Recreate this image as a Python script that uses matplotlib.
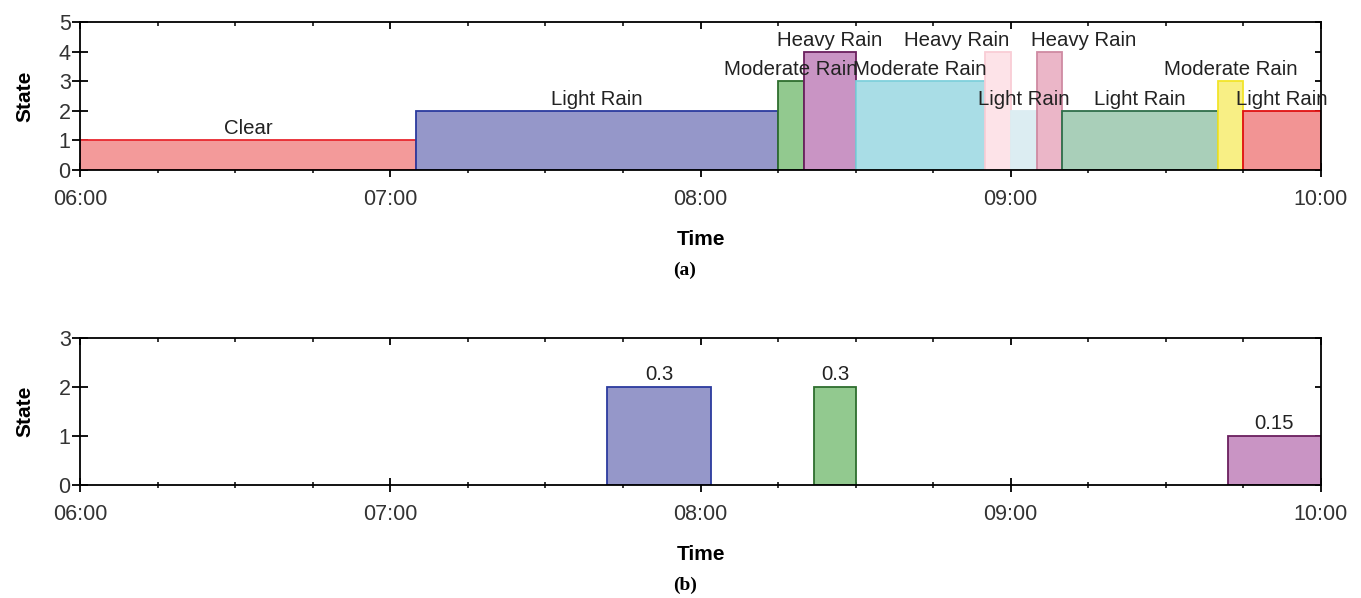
import matplotlib
matplotlib.use("Agg")
import matplotlib.pyplot as plt
from matplotlib.ticker import MultipleLocator, FuncFormatter

plt.rcParams['font.family'] = ['Liberation Sans', 'DejaVu Sans']

# (a) weather states over the morning
top_starts = ["06:00", "07:05", "08:15", "08:20", "08:30", "08:55", "09:00", "09:05", "09:10", "09:40", "09:45"]
top_ends = ["07:05", "08:15", "08:20", "08:30", "08:55", "09:00", "09:05", "09:10", "09:40", "09:45", "10:00"]
top_states = [1, 2, 3, 4, 3, 4, 2, 4, 2, 3, 2]
top_labels = ["Clear", "Light Rain", "Moderate Rain", "Heavy Rain", "Moderate Rain", "Heavy Rain",
              "Light Rain", "Heavy Rain", "Light Rain", "Moderate Rain", "Light Rain"]

# (b) detected events
bot_starts = ["07:42", "08:22", "09:42"]
bot_ends = ["08:02", "08:30", "10:00"]
bot_states = [2, 2, 1]
bot_labels = ["0.3", "0.3", "0.15"]

# styling
top_fill = ["#f39a9a", "#9597c9", "#92c98f", "#c994c4", "#a9dde6", "#fde3e8",
            "#dcedf2", "#ebb6c8", "#a9cfb9", "#f8ef85", "#f29494"]
top_edge = ["#e8282f", "#2b3a9e", "#2e6e2e", "#6a1f5e", "#7fd0dc", "#f9cdd6",
            "#dcedf2", "#cf8aa2", "#2f6e4a", "#f2e52a", "#e01010"]
top_nudge = [0, 0, 0, 0, 0, -8, 0, 6.6, 0, 0, 0]  # label shift, minutes
bot_fill = ["#9597c9", "#92c98f", "#c994c4"]
bot_edge = ["#2b3a9e", "#2e6e2e", "#6a1f5e"]


def hours(s):
    h, m = s.split(":")
    return int(h) + int(m) / 60.0


def style_axes(ax, ymax):
    ax.set_xlim(6, 10)
    ax.set_ylim(0, ymax)
    ax.xaxis.set_major_locator(MultipleLocator(1))
    ax.xaxis.set_minor_locator(MultipleLocator(0.25))
    ax.xaxis.set_major_formatter(FuncFormatter(lambda v, p: "%02d:00" % round(v)))
    ax.yaxis.set_major_locator(MultipleLocator(1))
    for sp in ax.spines.values():
        sp.set_linewidth(1.3)
        sp.set_color("black")
    ax.tick_params(axis="both", which="major", direction="inout", width=1.3,
                   labelsize=15.5, labelcolor="#333333")
    ax.tick_params(axis="x", which="major", length=10, pad=9)
    ax.tick_params(axis="x", which="minor", direction="inout", length=5, width=1.1)
    ax.tick_params(axis="y", which="major", length=11.5, pad=1)
    top = ax.secondary_xaxis("top")
    top.xaxis.set_major_locator(MultipleLocator(1))
    top.xaxis.set_minor_locator(MultipleLocator(0.25))
    top.tick_params(which="major", direction="in", length=5, width=1.3, labeltop=False)
    top.tick_params(which="minor", direction="in", length=3, width=1.1)
    top.spines["top"].set_visible(False)
    right = ax.secondary_yaxis("right")
    right.yaxis.set_major_locator(MultipleLocator(1))
    right.tick_params(direction="in", length=4.5, width=1.3, labelright=False)
    right.spines["right"].set_visible(False)
    ax.set_xlabel("Time", fontsize=15, fontweight="bold", labelpad=14)
    ax.set_ylabel("State", fontsize=15, fontweight="bold", labelpad=17)


fig = plt.figure(figsize=(13.61, 5.98), dpi=100)
ax1 = fig.add_axes([0.0588, 0.7157, 0.9118, 0.2475])
ax2 = fig.add_axes([0.0588, 0.1890, 0.9118, 0.2458])

x0 = [hours(s) for s in top_starts]
w = [hours(e) - hours(s) for s, e in zip(top_starts, top_ends)]
ax1.bar(x0, top_states, width=w, align="edge", color=top_fill, edgecolor=top_edge,
        linewidth=1.3, zorder=2)
for xs, wi, st, lab, nd in zip(x0, w, top_states, top_labels, top_nudge):
    ax1.annotate(lab, (xs + wi / 2 + nd / 60.0, st), xytext=(0, 1.5), textcoords="offset points",
                 ha="center", va="bottom", fontsize=14.7, color="#222222", zorder=3)
style_axes(ax1, 5)

x0 = [hours(s) for s in bot_starts]
w = [hours(e) - hours(s) for s, e in zip(bot_starts, bot_ends)]
ax2.bar(x0, bot_states, width=w, align="edge", color=bot_fill, edgecolor=bot_edge,
        linewidth=1.3, zorder=2)
for xs, wi, st, lab in zip(x0, w, bot_states, bot_labels):
    ax2.annotate(lab, (xs + wi / 2, st), xytext=(0, 2.5), textcoords="offset points",
                 ha="center", va="bottom", fontsize=14.7, color="#222222", zorder=3)
style_axes(ax2, 3)

fig.text(0.503, 0.548, "(a)", family="Liberation Serif", fontweight="bold", fontsize=14,
         ha="center", va="center")
fig.text(0.503, 0.022, "(b)", family="Liberation Serif", fontweight="bold", fontsize=14,
         ha="center", va="center")

fig.savefig("out.png", dpi=100)
